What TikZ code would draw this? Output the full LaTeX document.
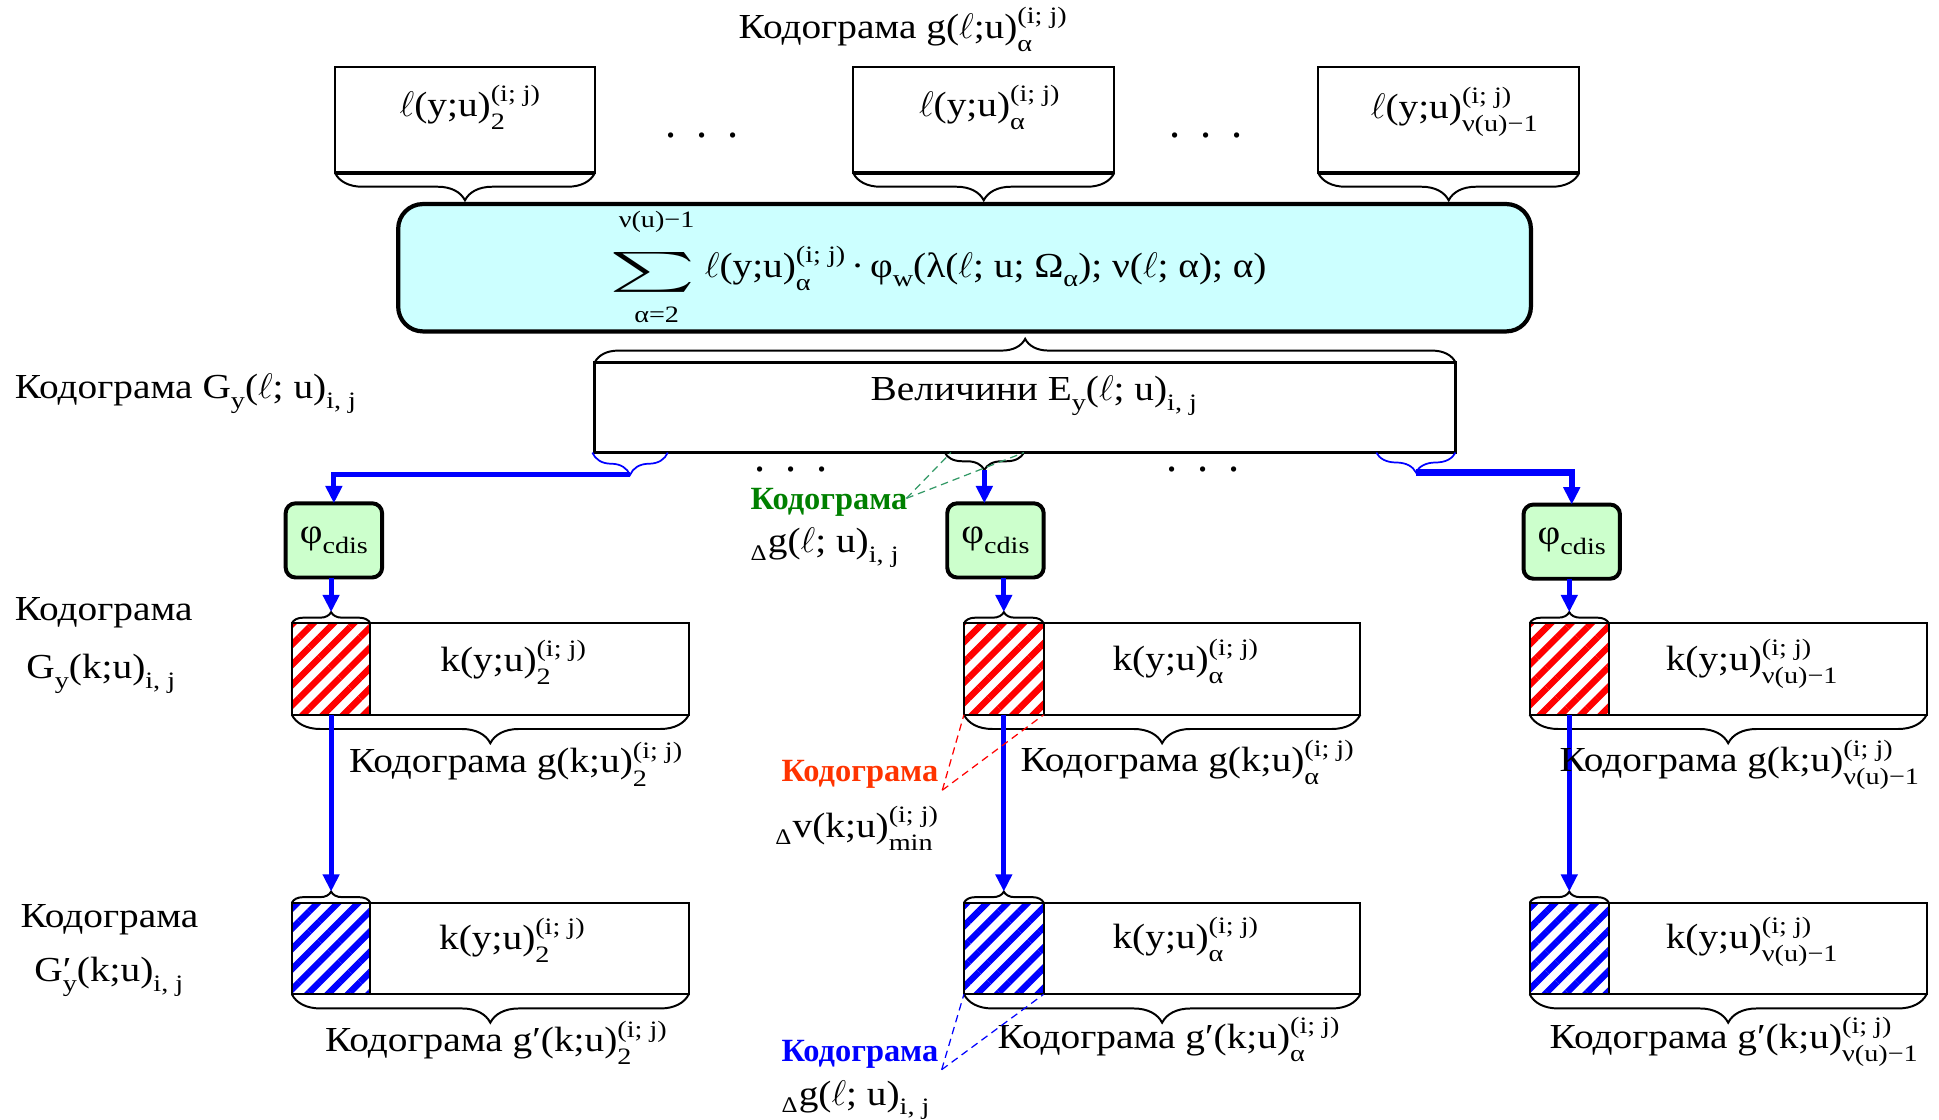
\documentclass[tikz,border=0pt]{standalone}
\usepackage{amsmath}
\usepackage{graphicx}
\usepackage{fontspec}
\setmainfont{Liberation Serif}[FakeStretch=1.12]
\newfontfamily\plainfont{Liberation Serif}
\newfontfamily\scrfont{Liberation Serif}[FakeStretch=1.2]
\usetikzlibrary{arrows.meta,decorations.pathreplacing,patterns.meta,calc}
\definecolor{cyanfill}{HTML}{CCFFFF}
\definecolor{greenfill}{HTML}{CCFFCC}
\definecolor{dgreen}{HTML}{008000}
\definecolor{orng}{HTML}{FF3300}
\definecolor{dashgreen}{HTML}{339966}
\newcommand{\ellx}{\ensuremath{\ell}}
\newcommand{\Scr}{\scrfont\fontsize{9.5}{9.5}\selectfont}
\newsavebox{\supbx}
\newsavebox{\subbx}
\newcommand{\SuSb}[2]{\leavevmode
  \sbox{\supbx}{\Scr\raisebox{6pt}{#1}}%
  \sbox{\subbx}{\Scr\raisebox{-5.3pt}{#2}}%
  \ifdim\wd\supbx>\wd\subbx \rlap{\usebox{\subbx}}\usebox{\supbx}%
  \else\rlap{\usebox{\supbx}}\usebox{\subbx}\fi}
\newcommand{\Sb}[1]{\raisebox{-4pt}{\Scr #1}}
\newcommand{\Dl}{\raisebox{-3pt}{\fontsize{9}{9}\selectfont Δ}\hspace{0.5pt}}
\tikzset{
  txt/.style={inner sep=0pt, outer sep=0pt},
  lbox/.style={draw, line width=0.8pt, inner sep=0pt, outer sep=0pt, minimum height=43pt},
  sumbox/.style={draw, line width=1.7pt, rounded corners=10pt, fill=cyanfill, inner sep=0pt, outer sep=0pt},
  evbox/.style={draw, line width=1.1pt, inner sep=0pt, outer sep=0pt},
  phibox/.style={draw, line width=1.6pt, rounded corners=4pt, fill=greenfill, inner sep=0pt, outer sep=0pt, minimum width=39pt, minimum height=30pt},
  kbox/.style={draw, line width=0.9pt, inner sep=0pt, outer sep=0pt, minimum height=37pt},
  hatchR/.style={kbox, pattern={Lines[angle=45,distance=5.8pt,line width=2.6pt]}, pattern color=red},
  hatchB/.style={kbox, pattern={Lines[angle=45,distance=5.8pt,line width=2.6pt]}, pattern color=blue},
  brc/.style={decorate, decoration={brace, amplitude=#1}, line width=0.8pt},
  bbrc/.style={decorate, decoration={brace, amplitude=#1}, line width=0.7pt, draw=blue},
  flow/.style={draw=blue, line width=2pt, -{Triangle[length=7pt,width=6.5pt]}},
  gdash/.style={draw=dashgreen, line width=0.5pt, dash pattern=on 3pt off 2pt},
  rdash/.style={draw=red, line width=0.5pt, dash pattern=on 3pt off 2pt},
  bdash/.style={draw=blue, line width=0.5pt, dash pattern=on 3pt off 2pt},
  dotsx/.style={txt, font=\plainfont\fontsize{18}{18}\selectfont},
  annot/.style={txt, anchor=base west, font=\plainfont\fontsize{13.1}{16}\selectfont\bfseries}
}
\begin{document}
\begin{tikzpicture}[x=0.5pt,y=-0.5pt,font=\fontsize{14.2}{17}\selectfont]
\useasboundingbox (0,0) rectangle (1568,905);

% title
\node[txt, anchor=base] (title) at (730,31) {Кодограма g(\ellx;u)\SuSb{(i; j)}{α}};

% top l boxes
\node[lbox, minimum width=105pt] (l2) at (376,97) {};
\node[lbox, minimum width=105.5pt] (la) at (795.5,97) {};
\node[lbox, minimum width=105.5pt] (lv) at (1171.5,97) {};
\foreach \b in {l2,la,lv}{
  \draw[line width=1.5pt] (\b.south west) -- (\b.south east);
  \draw[brc=11pt] (\b.south east) -- (\b.south west);
}
\node[txt, anchor=base] (tl2) at (380,94) {\ellx(y;u)\SuSb{(i; j)}{2}};
\node[txt, anchor=base] (tla) at (800,94) {\ellx(y;u)\SuSb{(i; j)}{α}};
\node[txt, anchor=base] (tlv) at (1176,96) {\ellx(y;u)\SuSb{(i; j)}{ν(u)−1}};
\node[dotsx, anchor=base] (d1) at (568,111) {.\hspace{8pt}.\hspace{8pt}.};
\node[dotsx, anchor=base] (d2) at (975,111) {.\hspace{8pt}.\hspace{8pt}.};

% sum box
\node[sumbox, minimum width=458pt, minimum height=51.5pt] (sum) at (780,216.5) {};
\node[txt] (sigma) at (528,220) {\scalebox{2.3}[1.12]{$\textstyle\sum$}};
\node[txt, anchor=base] (suplim) at (531,184) {\Scr ν(u)−1};
\node[txt, anchor=base] (sublim) at (531,261) {\Scr α=2};
\node[txt, anchor=base west] (formula) at (570,224)
  {\ellx(y;u)\SuSb{(i; j)}{α}\,·\,φ\Sb{w}(λ(\ellx; u; Ω\Sb{α}); ν(\ellx; α); α)};

% E box
\node[evbox, minimum width=348pt, minimum height=36.5pt] (ev) at (829,329.5) {};
\draw[brc=9.5pt] (ev.north west) -- (ev.north east);
\node[txt, anchor=base] (evt) at (836,324) {Величини E\Sb{y}(\ellx; u)\Sb{i, j}};
\node[txt, anchor=base west] (lab1) at (12,322) {Кодограма G\Sb{y}(\ellx; u)\Sb{i, j}};

% braces under E box
\coordinate (e1a) at (479,366); \coordinate (e1b) at (540,366);
\coordinate (e2a) at (764,366); \coordinate (e2b) at (828,366);
\coordinate (e3a) at (1113,366); \coordinate (e3b) at (1177,366);
\draw[bbrc=9pt] (e1b) -- (e1a);
\draw[brc=7pt] (e2b) -- (e2a);
\draw[bbrc=8pt] (e3b) -- (e3a);
\coordinate (t1) at (509.5,384);
\coordinate (t2) at (796,380);
\coordinate (t3) at (1145,382);
\node[dotsx, anchor=base] (d3) at (640,381) {.\hspace{8pt}.\hspace{8pt}.};
\node[dotsx, anchor=base] (d4) at (973,381) {.\hspace{8pt}.\hspace{8pt}.};

% phi boxes
\node[phibox] (phi1) at (270,437) {φ\Sb{cdis}};
\node[phibox] (phi2) at (805,437) {φ\Sb{cdis}};
\node[phibox] (phi3) at (1271,438) {φ\Sb{cdis}};
\draw[flow] (t1) -| (phi1.north);
\draw[flow] (t2) -- (t2 |- phi2.north);
\draw[flow, line width=2.6pt] (t3) -| (phi3.north);

% row 1
\node[hatchR, minimum width=31.75pt] (s1) at (267.75,541) {};
\node[kbox, minimum width=128.75pt] (b1) at (428.25,541) {};
\node[hatchR, minimum width=32.25pt] (s2) at (811.75,541) {};
\node[kbox, minimum width=128pt] (b2) at (972,541) {};
\node[hatchR, minimum width=32pt] (s3) at (1269,541) {};
\node[kbox, minimum width=128.5pt] (b3) at (1429.5,541) {};
% row 2
\node[hatchB, minimum width=31.75pt] (s4) at (267.75,767) {};
\node[kbox, minimum width=128.75pt] (b4) at (428.25,767) {};
\node[hatchB, minimum width=32.25pt] (s5) at (811.75,767) {};
\node[kbox, minimum width=128pt] (b5) at (972,767) {};
\node[hatchB, minimum width=32pt] (s6) at (1269,767) {};
\node[kbox, minimum width=128.5pt] (b6) at (1429.5,767) {};

\foreach \s/\b in {s1/b1,s2/b2,s3/b3,s4/b4,s5/b5,s6/b6}{
  \draw[brc=4.5pt] (\s.north west) -- (\s.north east);
  \draw[brc=11.5pt] (\b.south east) -- (\s.south west);
}
\foreach \s/\n in {s1/u1,s2/u2,s3/u3,s4/u4,s5/u5,s6/u6}{
  \coordinate (\n) at ($(\s.north)+(0,-9)$);
}
\draw[flow] (phi1.south -| u1) -- (u1);
\draw[flow] (phi2.south -| u2) -- (u2);
\draw[flow] (phi3.south -| u3) -- (u3);
\draw[flow] (s1.south) -- (u4);
\draw[flow] (s2.south) -- (u5);
\draw[flow] (s3.south) -- (u6);

\node[txt, anchor=base] (k1) at (415,543) {k(y;u)\SuSb{(i; j)}{2}};
\node[txt, anchor=base] (k2) at (958.5,542) {k(y;u)\SuSb{(i; j)}{α}};
\node[txt, anchor=base] (k3) at (1416.5,542) {k(y;u)\SuSb{(i; j)}{ν(u)−1}};
\node[txt, anchor=base] (k4) at (414,768) {k(y;u)\SuSb{(i; j)}{2}};
\node[txt, anchor=base] (k5) at (958.5,767) {k(y;u)\SuSb{(i; j)}{α}};
\node[txt, anchor=base] (k6) at (1416.5,767) {k(y;u)\SuSb{(i; j)}{ν(u)−1}};

\node[txt, anchor=base] (c1) at (417,625) {Кодограма g(k;u)\SuSb{(i; j)}{2}};
\node[txt, anchor=base] (c2) at (960,624) {Кодограма g(k;u)\SuSb{(i; j)}{α}};
\node[txt, anchor=base] (c3) at (1406.5,624) {Кодограма g(k;u)\SuSb{(i; j)}{ν(u)−1}};
\node[txt, anchor=base] (c4) at (401,850.6) {Кодограма g′(k;u)\SuSb{(i; j)}{2}};
\node[txt, anchor=base] (c5) at (945,848) {Кодограма g′(k;u)\SuSb{(i; j)}{α}};
\node[txt, anchor=base] (c6) at (1402,848) {Кодограма g′(k;u)\SuSb{(i; j)}{ν(u)−1}};

% left labels
\node[txt, anchor=base west] (lab2a) at (12,502) {Кодограма};
\node[txt, anchor=base] (lab2b) at (81.5,549) {G\Sb{y}(k;u)\Sb{i, j}};
\node[txt, anchor=base] (lab3a) at (88.5,750) {Кодограма};
\node[txt, anchor=base] (lab3b) at (88,794) {G\rlap{′}\Sb{y}(k;u)\Sb{i, j}};

% annotations
\node[annot, text=dgreen] (gA) at (607,412) {Кодограма};
\node[txt, anchor=base west] (gB) at (607,447) {\Dl g(\ellx; u)\Sb{i, j}};
\coordinate (gp) at (733,403);
\draw[gdash] (gp) -- (769,366);
\draw[gdash] (gp) -- (828,366);

\node[annot, text=orng] (oA) at (632,632) {Кодограма};
\node[txt, anchor=base west] (oB) at (627,677) {\Dl v(k;u)\SuSb{(i; j)}{min}};
\coordinate (op) at (762,639);
\draw[rdash] (op) -- (s2.south west);
\draw[rdash] (op) -- (s2.south east);

\node[annot, text=blue] (bA) at (632,858.6) {Кодограма};
\node[txt, anchor=base west] (bB) at (632,893.6) {\Dl g(\ellx; u)\Sb{i, j}};
\coordinate (bp) at (761.5,865);
\draw[bdash] (bp) -- (s5.south west);
\draw[bdash] (bp) -- (s5.south east);
\end{tikzpicture}
\end{document}
